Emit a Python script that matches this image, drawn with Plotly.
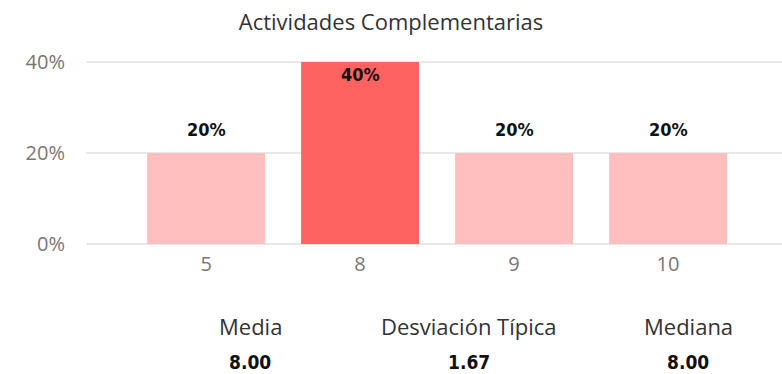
import plotly.graph_objects as go

# Score distribution
categories = ["5", "8", "9", "10"]
shares = [0.20, 0.40, 0.20, 0.20]

# Summary statistics shown under the chart
stat_names = ["Media", "Desviación Típica", "Mediana"]
stat_values = [8.00, 1.67, 8.00]

title_text = "Actividades Complementarias"

light = "#FFBFBF"
strong = "#FF6361"
peak = max(shares)
colors = [strong if v == peak else light for v in shares]

label_font = "DejaVu Sans Condensed"
text_font = "Open Sans"

fig = go.Figure(
    go.Bar(
        x=categories,
        y=shares,
        marker=dict(color=colors, line=dict(width=0)),
        width=0.766,
        hoverinfo="skip",
    )
)

# Value labels: above the bar, or tucked inside the top of the tallest one
# (category axis positions are addressed by index)
for i, v in enumerate(shares):
    inside = v == peak
    fig.add_annotation(
        x=i, y=v, xref="x", yref="y",
        text=f"{v:.0%}", showarrow=False,
        xanchor="center", yanchor="top" if inside else "bottom",
        yshift=0 if inside else 11,
        font=dict(family=label_font, size=18, color="#111111", weight="bold"),
    )

# Stat captions and values beneath the axis
stat_x = [0.236, 0.55, 0.865]
for sx, name, val in zip(stat_x, stat_names, stat_values):
    fig.add_annotation(
        x=sx, y=-0.43, xref="paper", yref="paper", xanchor="center", yanchor="middle",
        text=name, showarrow=False,
        font=dict(family=text_font, size=22, color="#333333"),
    )
    fig.add_annotation(
        x=sx, y=-0.625, xref="paper", yref="paper", xanchor="center", yanchor="middle",
        text=f"{val:.2f}", showarrow=False,
        font=dict(family=label_font, size=19, color="#111111", weight="bold"),
    )

fig.update_layout(
    width=782,
    height=374,
    margin=dict(l=86, r=0, t=60, b=128),
    paper_bgcolor="white",
    plot_bgcolor="white",
    showlegend=False,
    title=dict(
        text=title_text, x=0.5, xanchor="center", y=0.94, yanchor="middle",
        font=dict(family=text_font, size=22, color="#333333"),
    ),
    xaxis=dict(
        type="category",
        range=[-0.78, 3.74],
        showgrid=False,
        zeroline=False,
        showline=False,
        ticklabelstandoff=4,
        tickfont=dict(family=text_font, size=20, color="#777777"),
    ),
    yaxis=dict(
        range=[-0.0044, 0.4044],
        tickvals=[0, 0.2, 0.4],
        tickformat=".0%",
        showgrid=True,
        gridcolor="#E8E8E8",
        gridwidth=2,
        zeroline=False,
        showline=False,
        ticklabelstandoff=20,
        tickfont=dict(family=text_font, size=20, color="#777777"),
    ),
)

fig.write_html("out.html")
